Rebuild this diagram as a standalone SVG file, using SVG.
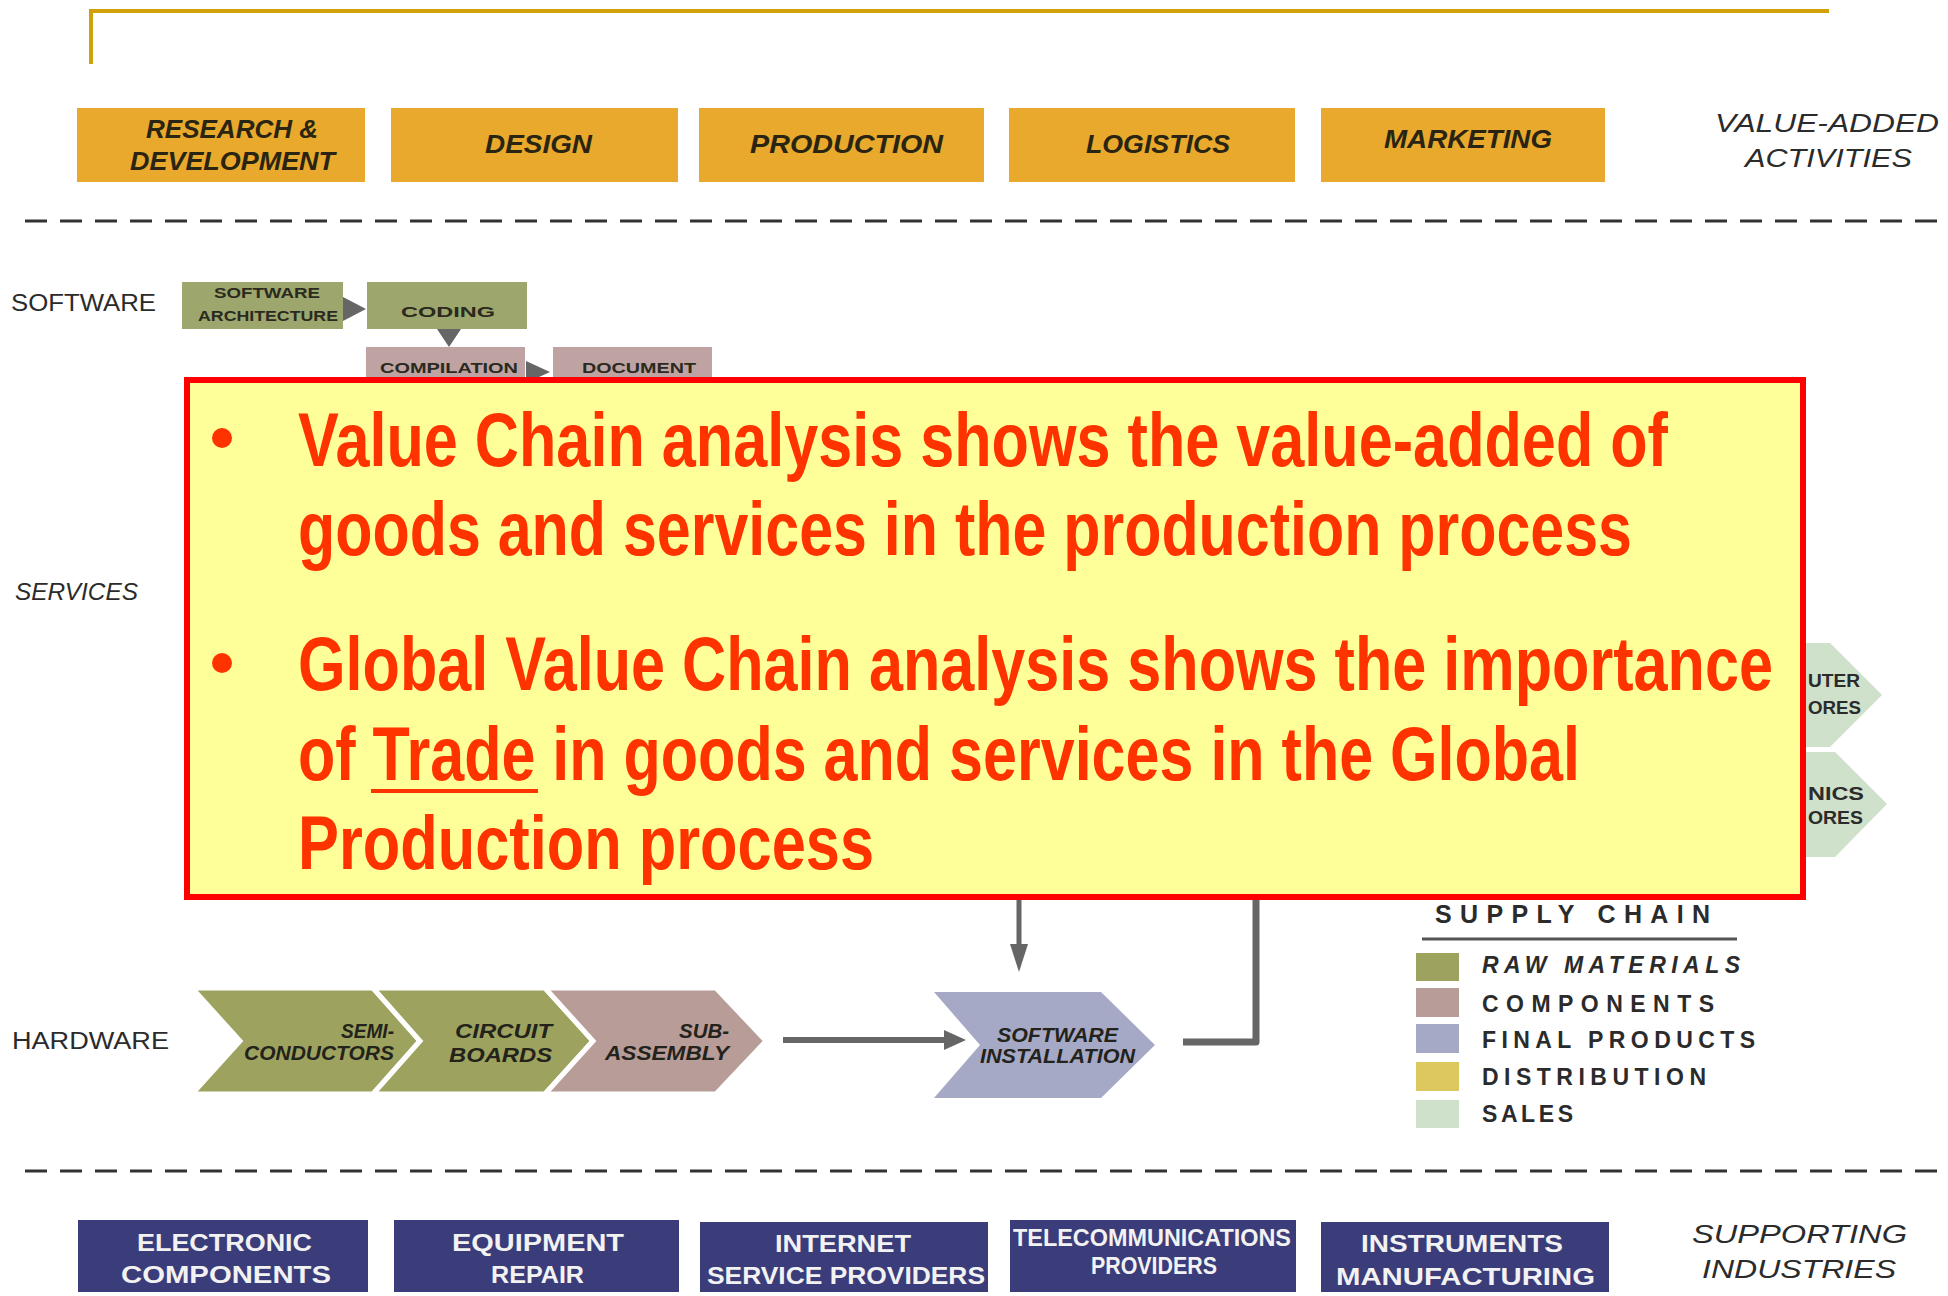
<svg xmlns="http://www.w3.org/2000/svg" width="1948" height="1296" viewBox="0 0 1948 1296">
<defs>
<style>
.t{font-family:'Liberation Sans',Arial,sans-serif;}
.dk{fill:#2b2b2b;}
.it{font-style:italic;}
.act{font-size:25px;font-style:italic;font-weight:bold;fill:#2a2412;}
.box-act{fill:#E8A92C;}
.box-sup{fill:#3B3C7A;}
.sup{font-size:24px;font-weight:bold;fill:#f2f2f2;}
.sw{font-size:14px;font-weight:bold;fill:#2a2a20;}
.chev{font-size:20px;font-style:italic;font-weight:bold;fill:#23231c;}
.leg{font-size:23px;fill:#2b2b2b;font-weight:bold;}
.raw{fill:#9DA35F;}
.comp{fill:#B89C98;}
.fin{fill:#A6A9C6;}
.dist{fill:#DDC860;}
.sale{fill:#CFE0CB;}
.dash{stroke:#333;stroke-width:3;stroke-dasharray:22 13;fill:none;}
.conn{stroke:#666;fill:none;}
.head{fill:#666;}
.red{font-family:'Liberation Sans',Arial,sans-serif;font-weight:bold;font-size:55px;fill:#FF3300;}
</style>
</defs>
<rect x="0" y="0" width="1948" height="1296" fill="#ffffff"/>

<g id="title-frame">
<line x1="89" y1="11" x2="1829" y2="11" stroke="#D1A10A" stroke-width="4"/>
<line x1="91" y1="9" x2="91" y2="64" stroke="#D1A10A" stroke-width="4"/>
</g>

<g id="separators">
<line class="dash" x1="25" y1="221" x2="1940" y2="221"/>
<line class="dash" x1="25" y1="1171" x2="1940" y2="1171"/>
</g>

<g id="value-added-activities">
<g id="act-rd"><rect class="box-act" x="77" y="108" width="288" height="74"/>
<text class="t act" x="146" y="138" textLength="172" lengthAdjust="spacingAndGlyphs">RESEARCH &amp;</text>
<text class="t act" x="130" y="170" textLength="205" lengthAdjust="spacingAndGlyphs">DEVELOPMENT</text></g>
<g id="act-design"><rect class="box-act" x="391" y="108" width="287" height="74"/>
<text class="t act" x="485" y="153" textLength="107" lengthAdjust="spacingAndGlyphs">DESIGN</text></g>
<g id="act-production"><rect class="box-act" x="699" y="108" width="285" height="74"/>
<text class="t act" x="750" y="153" textLength="193" lengthAdjust="spacingAndGlyphs">PRODUCTION</text></g>
<g id="act-logistics"><rect class="box-act" x="1009" y="108" width="286" height="74"/>
<text class="t act" x="1086" y="153" textLength="144" lengthAdjust="spacingAndGlyphs">LOGISTICS</text></g>
<g id="act-marketing"><rect class="box-act" x="1321" y="108" width="284" height="74"/>
<text class="t act" x="1384" y="148" textLength="168" lengthAdjust="spacingAndGlyphs">MARKETING</text></g>
<g id="label-value-added">
<text class="t dk it" font-size="25" x="1715" y="132" textLength="224" lengthAdjust="spacingAndGlyphs">VALUE-ADDED</text>
<text class="t dk it" font-size="25" x="1745" y="167" textLength="167" lengthAdjust="spacingAndGlyphs">ACTIVITIES</text></g>
</g>

<g id="row-labels">
<text id="label-software" class="t dk" font-size="23" x="11" y="311" textLength="145" lengthAdjust="spacingAndGlyphs">SOFTWARE</text>
<text id="label-services" class="t dk it" font-size="23" x="15" y="600" textLength="123" lengthAdjust="spacingAndGlyphs">SERVICES</text>
<text id="label-hardware" class="t dk" font-size="23" x="12" y="1049" textLength="157" lengthAdjust="spacingAndGlyphs">HARDWARE</text>
</g>

<g id="connectors">
<polygon class="head" points="343,297 366,309 343,321"/>
<polygon class="head" points="437,329 461,329 449,347"/>
<polygon class="head" points="526,361 550,372 526,383"/>
<line class="conn" x1="783" y1="1040" x2="946" y2="1040" stroke-width="6"/>
<polygon class="head" points="944,1030 966,1040 944,1050"/>
<line class="conn" x1="1019" y1="895" x2="1019" y2="948" stroke-width="5"/>
<polygon class="head" points="1010,944 1028,944 1019,972"/>
<polyline class="conn" points="1183,1042 1256,1042 1256,895" stroke-width="7" stroke-linejoin="round"/>
</g>

<g id="software-chain">
<g id="sw-architecture"><rect x="182" y="282" width="161" height="47" fill="#9DA66C"/>
<text class="t sw" x="214" y="298" textLength="106" lengthAdjust="spacingAndGlyphs">SOFTWARE</text>
<text class="t sw" x="198" y="321" textLength="140" lengthAdjust="spacingAndGlyphs">ARCHITECTURE</text></g>
<g id="sw-coding"><rect x="367" y="282" width="160" height="47" fill="#9DA66C"/>
<text class="t sw" font-size="19" x="401" y="317" textLength="94" lengthAdjust="spacingAndGlyphs">CODING</text></g>
<g id="sw-compilation"><rect x="366" y="347" width="159" height="40" fill="#BFA3A3"/>
<text class="t sw" font-size="16" x="380" y="373" textLength="138" lengthAdjust="spacingAndGlyphs">COMPILATION</text></g>
<g id="sw-document"><rect x="553" y="347" width="159" height="40" fill="#BFA3A3"/>
<text class="t sw" font-size="16" x="582" y="373" textLength="114" lengthAdjust="spacingAndGlyphs">DOCUMENT</text></g>
</g>

<g id="sales-chevrons">
<g id="sale-computer"><polygon class="sale" points="1780,643 1830,643 1882,695 1830,747 1780,747"/>
<text class="t" font-size="19" font-weight="bold" fill="#2b2b2b" x="1808" y="687" textLength="52" lengthAdjust="spacingAndGlyphs">UTER</text>
<text class="t" font-size="19" font-weight="bold" fill="#2b2b2b" x="1808" y="714" textLength="53" lengthAdjust="spacingAndGlyphs">ORES</text></g>
<g id="sale-electronics"><polygon class="sale" points="1780,752 1835,752 1887,804 1835,857 1780,857"/>
<text class="t" font-size="19" font-weight="bold" fill="#2b2b2b" x="1808" y="800" textLength="56" lengthAdjust="spacingAndGlyphs">NICS</text>
<text class="t" font-size="19" font-weight="bold" fill="#2b2b2b" x="1808" y="824" textLength="55" lengthAdjust="spacingAndGlyphs">ORES</text></g>
</g>

<g id="hardware-chain">
<g id="hw-semiconductors"><polygon class="raw" points="192,988 373,988 420,1041 373,1094 192,1094 240,1041" stroke="#fff" stroke-width="5"/>
<text class="t chev" x="341" y="1038" textLength="53" lengthAdjust="spacingAndGlyphs">SEMI-</text>
<text class="t chev" x="244" y="1060" textLength="150" lengthAdjust="spacingAndGlyphs">CONDUCTORS</text></g>
<g id="hw-circuit"><polygon class="raw" points="373,988 545,988 593,1041 545,1094 373,1094 420,1041" stroke="#fff" stroke-width="5"/>
<text class="t chev" x="455" y="1038" textLength="97" lengthAdjust="spacingAndGlyphs">CIRCUIT</text>
<text class="t chev" x="449" y="1062" textLength="103" lengthAdjust="spacingAndGlyphs">BOARDS</text></g>
<g id="hw-subassembly"><polygon class="comp" points="545,988 716,988 766,1041 716,1094 545,1094 593,1041" stroke="#fff" stroke-width="5"/>
<text class="t chev" x="679" y="1038" textLength="50" lengthAdjust="spacingAndGlyphs">SUB-</text>
<text class="t chev" x="605" y="1060" textLength="124" lengthAdjust="spacingAndGlyphs">ASSEMBLY</text></g>
<g id="sw-installation"><polygon class="fin" points="934,992 1101,992 1155,1045 1101,1098 934,1098 980,1045"/>
<text class="t chev" x="997" y="1042" textLength="121" lengthAdjust="spacingAndGlyphs">SOFTWARE</text>
<text class="t chev" x="980" y="1063" textLength="155" lengthAdjust="spacingAndGlyphs">INSTALLATION</text></g>
</g>

<g id="legend">
<text class="t" font-size="25" font-weight="bold" fill="#2b2b2b" x="1435" y="923" textLength="275" lengthAdjust="spacing">SUPPLY CHAIN</text>
<line x1="1422" y1="939" x2="1737" y2="939" stroke="#555" stroke-width="3"/>
<rect class="raw" x="1416" y="953" width="43" height="28"/>
<text class="t leg it" x="1482" y="973" textLength="258" lengthAdjust="spacing">RAW MATERIALS</text>
<rect class="comp" x="1416" y="988" width="43" height="29"/>
<text class="t leg" x="1482" y="1012" textLength="232" lengthAdjust="spacing">COMPONENTS</text>
<rect class="fin" x="1416" y="1024" width="43" height="29"/>
<text class="t leg" x="1482" y="1048" textLength="273" lengthAdjust="spacing">FINAL PRODUCTS</text>
<rect class="dist" x="1416" y="1062" width="43" height="29"/>
<text class="t leg" x="1482" y="1085" textLength="224" lengthAdjust="spacing">DISTRIBUTION</text>
<rect class="sale" x="1416" y="1100" width="43" height="28"/>
<text class="t leg" x="1482" y="1122" textLength="91" lengthAdjust="spacing">SALES</text>
</g>

<g id="supporting-industries">
<g id="sup-electronic"><rect class="box-sup" x="78" y="1220" width="290" height="72"/>
<text class="t sup" x="137" y="1251" textLength="175" lengthAdjust="spacingAndGlyphs">ELECTRONIC</text>
<text class="t sup" x="121" y="1283" textLength="210" lengthAdjust="spacingAndGlyphs">COMPONENTS</text></g>
<g id="sup-equipment"><rect class="box-sup" x="394" y="1220" width="285" height="72"/>
<text class="t sup" x="452" y="1251" textLength="172" lengthAdjust="spacingAndGlyphs">EQUIPMENT</text>
<text class="t sup" x="491" y="1283" textLength="93" lengthAdjust="spacingAndGlyphs">REPAIR</text></g>
<g id="sup-internet"><rect class="box-sup" x="700" y="1222" width="288" height="70"/>
<text class="t sup" x="775" y="1252" textLength="136" lengthAdjust="spacingAndGlyphs">INTERNET</text>
<text class="t sup" x="707" y="1284" textLength="278" lengthAdjust="spacingAndGlyphs">SERVICE PROVIDERS</text></g>
<g id="sup-telecom"><rect class="box-sup" x="1010" y="1220" width="286" height="72"/>
<text class="t sup" font-size="19" x="1013" y="1246" textLength="278" lengthAdjust="spacingAndGlyphs">TELECOMMUNICATIONS</text>
<text class="t sup" font-size="19" x="1091" y="1274" textLength="126" lengthAdjust="spacingAndGlyphs">PROVIDERS</text></g>
<g id="sup-instruments"><rect class="box-sup" x="1321" y="1222" width="288" height="70"/>
<text class="t sup" x="1361" y="1252" textLength="202" lengthAdjust="spacingAndGlyphs">INSTRUMENTS</text>
<text class="t sup" x="1336" y="1285" textLength="259" lengthAdjust="spacingAndGlyphs">MANUFACTURING</text></g>
<g id="label-supporting">
<text class="t dk it" font-size="25" x="1692" y="1243" textLength="215" lengthAdjust="spacingAndGlyphs">SUPPORTING</text>
<text class="t dk it" font-size="25" x="1702" y="1278" textLength="194" lengthAdjust="spacingAndGlyphs">INDUSTRIES</text></g>
</g>

<g id="callout">
<rect x="187" y="380" width="1616" height="517" fill="#FFFF99" stroke="#FF0000" stroke-width="6"/>
<circle cx="222" cy="438" r="10" fill="#FF3300"/>
<circle cx="222" cy="663" r="10" fill="#FF3300"/>
<text class="red" transform="translate(298,466) scale(1,1.38)" x="0" y="0" textLength="1370" lengthAdjust="spacingAndGlyphs">Value Chain analysis shows the value-added of</text>
<text class="red" transform="translate(298,555) scale(1,1.38)" x="0" y="0" textLength="1334" lengthAdjust="spacingAndGlyphs">goods and services in the production process</text>
<text class="red" transform="translate(298,690) scale(1,1.38)" x="0" y="0" textLength="1475" lengthAdjust="spacingAndGlyphs">Global Value Chain analysis shows the importance</text>
<text class="red" transform="translate(298,780) scale(1,1.38)" x="0" y="0" textLength="1282" lengthAdjust="spacingAndGlyphs">of Trade in goods and services in the Global</text>
<line x1="371" y1="791" x2="538" y2="791" stroke="#FF3300" stroke-width="4"/>
<text class="red" transform="translate(298,869) scale(1,1.38)" x="0" y="0" textLength="576" lengthAdjust="spacingAndGlyphs">Production process</text>
</g>
</svg>
